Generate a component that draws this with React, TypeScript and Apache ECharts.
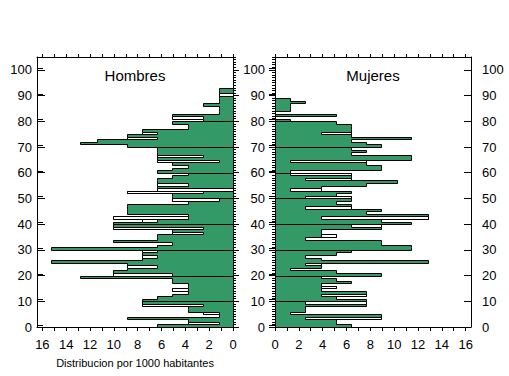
import React, { useEffect, useRef } from 'react';
import * as echarts from 'echarts';

// Distribution per 1000 inhabitants, by single year of age (index = age)
const hombres: number[] = [
  6.4, 3.8, 3.8, 8.9, 1.2, 2.5, 3.8, 3.8, 7.6, 7.6,
  7.6, 6.4, 5.1, 3.8, 5.1, 3.8, 3.8, 5.1, 5.1, 12.8,
  10.1, 10.1, 8.9, 8.9, 8.9, 15.3, 7.6, 7.6, 7.6, 7.6,
  15.3, 6.4, 5.1, 10.1, 6.4, 6.4, 5.1, 5.1, 10.1, 10.1,
  10.1, 7.6, 10.1, 3.8, 8.9, 8.9, 8.9, 8.9, 3.8, 5.1,
  5.1, 5.1, 8.9, 6.4, 6.4, 6.4, 6.4, 6.4, 5.1, 3.8,
  6.4, 5.1, 3.8, 5.1, 6.4, 6.4, 6.4, 6.4, 6.4, 6.4,
  8.9, 12.8, 11.4, 8.9, 8.9, 7.6, 7.6, 3.8, 3.8, 5.1,
  2.5, 5.1, 5.1, 1.2, 1.2, 1.2, 2.5, 1.2, 1.2, 1.2,
  1.2, 1.2, 1.2,
];
// [age, inner fill extent] where the outlined bar is only partly filled
const hombresGaps: [number, number][] = [
  [1, 1.2], [5, 1.2], [8, 2.5], [14, 3.8], [20, 5.1], [23, 6.4], [27, 6.4], [29, 6.4],
  [36, 2.5], [38, 2.5], [41, 6.4], [42, 3.8], [49, 1.2], [52, 2.5], [53, 0], [55, 3.8],
  [64, 1.2], [66, 2.5], [73, 6.4], [75, 6.4], [81, 2.5], [90, 0],
];

const mujeres: number[] = [
  6.4, 5.1, 5.1, 8.9, 8.9, 1.25, 2.55, 2.55, 7.6, 7.6,
  7.6, 5.1, 7.6, 7.6, 3.9, 5.1, 3.9, 6.4, 5.1, 3.9,
  8.9, 5.1, 1.25, 3.9, 3.9, 12.8, 3.9, 2.55, 5.1, 6.4,
  11.45, 11.45, 8.9, 8.9, 2.55, 5.1, 3.9, 3.9, 8.9, 8.9,
  11.45, 8.9, 12.8, 12.8, 7.6, 8.9, 6.4, 6.4, 5.1, 6.4,
  6.4, 5.1, 6.4, 3.9, 3.9, 7.6, 10.2, 6.4, 6.4, 6.4,
  1.25, 8.9, 8.9, 7.6, 7.6, 11.45, 11.45, 6.4, 7.6, 6.4,
  8.9, 7.6, 6.4, 11.45, 6.4, 6.4, 6.4, 6.4, 6.4, 5.1,
  1.25, 0, 5.1, 0, 1.25, 1.25, 1.25, 2.55, 1.25,
];
const mujeresGaps: [number, number][] = [
  [3, 2.55], [9, 2.55], [12, 3.9], [15, 3.9], [24, 2.55], [35, 3.9], [39, 6.4], [42, 3.9],
  [46, 2.55], [50, 2.55], [53, 1.25], [57, 2.55], [59, 1.25], [64, 1.25], [75, 3.9],
];

const yMajorTicks = [0, 10, 20, 30, 40, 50, 60, 70, 80, 90, 100];
const xLabelTicks = [0, 2, 4, 6, 8, 10, 12, 14, 16];
const Y_MAX = 105;
const X_MAX = 16.45;

const GREEN = '#339966';
const FONT = '"Liberation Sans", Arial, sans-serif';

const range = (a: number, b: number) => {
  const r: number[] = [];
  for (let i = a; i <= b; i++) r.push(i);
  return r;
};
const yMinorTicks = range(0, Y_MAX);
const xMinorTicks = range(0, 16);

const crisp = (p: number[]) => [Math.round(p[0]) + 0.5, Math.round(p[1]) + 0.5];

function decadeSeries(values: number[], xAxisIndex: number, yAxisIndex: number) {
  const decades: number[][] = [];
  for (let d = 0; d * 10 < values.length; d++) decades.push([0, d * 10]);
  return {
    type: 'custom',
    xAxisIndex,
    yAxisIndex,
    data: decades,
    encode: { x: 0, y: 1 },
    silent: true,
    z: 2,
    renderItem: (_params: any, api: any) => {
      const start = api.value(1);
      const end = Math.min(start + 10, values.length);
      const pts: number[][] = [crisp(api.coord([0, start]))];
      for (let a = start; a < end; a++) {
        pts.push(crisp(api.coord([values[a], a])));
        pts.push(crisp(api.coord([values[a], a + 1])));
      }
      pts.push(crisp(api.coord([0, end])));
      return {
        type: 'polygon',
        shape: { points: pts },
        style: { fill: GREEN, stroke: '#000', lineWidth: 1 },
      };
    },
  };
}

function gapSeries(values: number[], gaps: [number, number][], xAxisIndex: number, yAxisIndex: number) {
  return {
    type: 'custom',
    xAxisIndex,
    yAxisIndex,
    data: gaps.map(([age, inner]) => [inner, age, values[age]]),
    encode: { x: [0, 2], y: 1 },
    silent: true,
    z: 3,
    renderItem: (_params: any, api: any) => {
      const inner = api.value(0);
      const age = api.value(1);
      const outer = api.value(2);
      const p1 = crisp(api.coord([inner, age + 1]));
      const p2 = crisp(api.coord([outer, age]));
      return {
        type: 'rect',
        shape: {
          x: Math.min(p1[0], p2[0]),
          y: p1[1],
          width: Math.abs(p2[0] - p1[0]),
          height: p2[1] - p1[1],
        },
        style: { fill: '#fff', stroke: '#000', lineWidth: 1 },
      };
    },
  };
}

const line = { show: true, lineStyle: { color: '#000', width: 1 } };
const noLine = { show: false };

function xAxes(gridIndex: number, inverse: boolean, withName: boolean) {
  return [
    {
      type: 'value', gridIndex, position: 'bottom', inverse, min: 0, max: X_MAX, interval: 1,
      axisLine: { ...line, onZero: false },
      axisTick: { show: true, inside: false, length: 4, customValues: xMinorTicks, lineStyle: { color: '#000' } },
      axisLabel: { show: true, customValues: xLabelTicks, margin: 11, color: '#000', fontSize: 13, fontFamily: FONT },
      splitLine: { show: false },
      name: withName ? 'Distribucion por 1000 habitantes' : '',
      nameLocation: 'middle', nameGap: 30,
      nameTextStyle: { color: '#000', fontSize: 11, fontFamily: FONT },
    },
    {
      type: 'value', gridIndex, position: 'top', inverse, min: 0, max: X_MAX, interval: 1,
      axisLine: { ...line, onZero: false },
      axisTick: { show: true, inside: false, length: 3, customValues: xMinorTicks, lineStyle: { color: '#000' } },
      axisLabel: { show: false },
      splitLine: { show: false },
    },
  ];
}

function yAxis(gridIndex: number, position: string, opts: any) {
  return {
    type: 'value', gridIndex, position, min: 0, max: Y_MAX, interval: opts.minor ? 1 : 10,
    axisLine: opts.line ? { ...line, onZero: false } : noLine,
    axisTick: {
      show: true, inside: opts.inside, length: opts.length,
      customValues: opts.minor ? yMinorTicks : yMajorTicks, lineStyle: { color: '#000' },
    },
    axisLabel: opts.labels
      ? { show: true, customValues: yMajorTicks, margin: opts.margin, color: '#000', fontSize: 13, fontFamily: FONT }
      : { show: false },
    splitLine: { show: false },
  };
}

export default function App() {
  const ref = useRef<HTMLDivElement>(null);
  useEffect(() => {
    if (!ref.current) return;
    const chart = echarts.init(ref.current, undefined, { renderer: 'svg' });
    const top = 57;
    const h = 270;
    chart.setOption({
      animation: false,
      backgroundColor: '#fff',
      grid: [
        { left: 37, top, width: 196, height: h },
        { left: 275, top, width: 196, height: h },
        { left: 37, top: top - 1.8, width: 196, height: h },
        { left: 275, top: top - 1.8, width: 196, height: h },
      ],
      xAxis: [
        ...xAxes(0, true, true),
        ...xAxes(1, false, false),
        { type: 'value', gridIndex: 2, show: false, min: 0, max: 1 },
        { type: 'value', gridIndex: 3, show: false, min: 0, max: 1 },
      ],
      yAxis: [
        yAxis(0, 'left', { line: true, inside: true, length: 8, labels: true, margin: 5 }),
        yAxis(0, 'left', { minor: true, inside: true, length: 3 }),
        yAxis(0, 'right', { line: true, inside: false, length: 6 }),
        yAxis(1, 'left', { line: true, inside: false, length: 6, labels: true, margin: 10 }),
        yAxis(1, 'right', { line: true, inside: true, length: 7, labels: true, margin: 11 }),
        yAxis(1, 'right', { minor: true, inside: true, length: 3 }),
        yAxis(2, 'right', { inside: false, length: 6 }),
        yAxis(3, 'left', { inside: false, length: 6 }),
      ],
      graphic: [
        {
          type: 'text', x: 135, y: 75, silent: true,
          style: { text: 'Hombres', fill: '#000', fontSize: 15, fontFamily: FONT, align: 'center', verticalAlign: 'middle' },
        },
        {
          type: 'text', x: 373, y: 75, silent: true,
          style: { text: 'Mujeres', fill: '#000', fontSize: 15, fontFamily: FONT, align: 'center', verticalAlign: 'middle' },
        },
      ],
      series: [
        decadeSeries(hombres, 0, 0),
        gapSeries(hombres, hombresGaps, 0, 0),
        decadeSeries(mujeres, 2, 3),
        gapSeries(mujeres, mujeresGaps, 2, 3),
      ],
    });
    return () => chart.dispose();
  }, []);
  return (
    <div
      ref={ref}
      style={{ position: 'fixed', left: 0, top: 0, width: 509, height: 376, background: '#fff' }}
    />
  );
}
